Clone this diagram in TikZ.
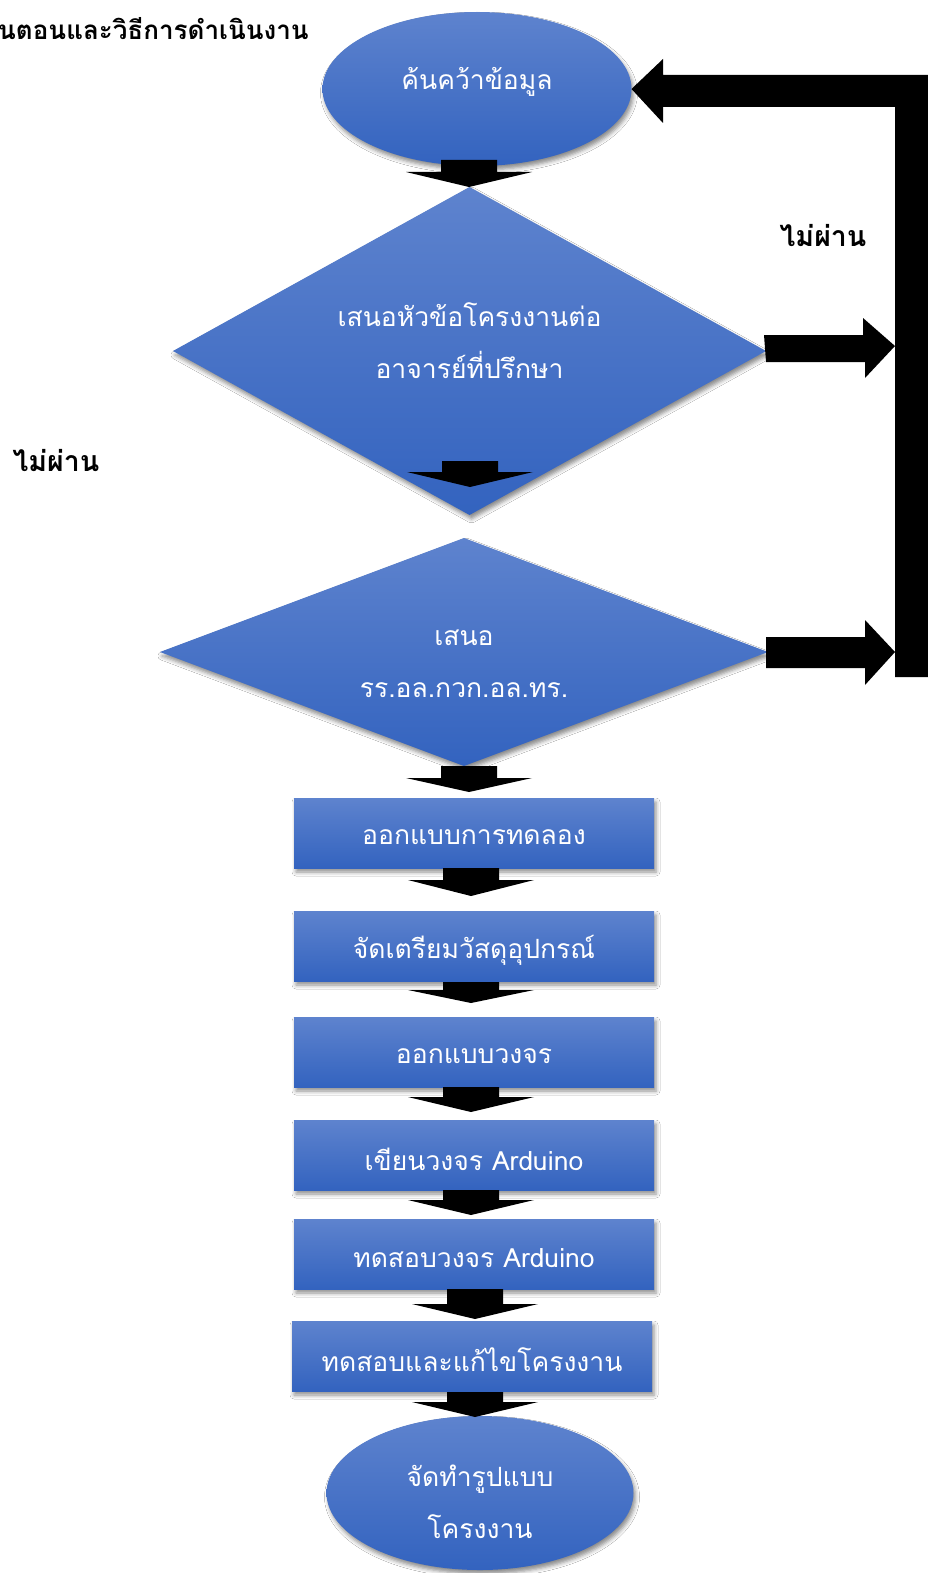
\documentclass[tikz,border=0pt]{standalone}
\usepackage{fontspec}
\newfontfamily\thaifont[Script=Thai]{Loma}
\usetikzlibrary{shapes.geometric,shadows.blur}
\definecolor{bluetop}{HTML}{5E83CE}
\definecolor{bluebot}{HTML}{3363BF}
\tikzset{
  blueshape/.style={top color=bluetop, bottom color=bluebot, draw=none,
    blur shadow={shadow xshift=2pt, shadow yshift=-4pt, shadow blur radius=4pt, shadow opacity=45},
    inner sep=0pt, outer sep=0pt},
  oval/.style={blueshape, ellipse, minimum width=#1, minimum height=154},
  decide/.style={blueshape, diamond},
  stepbox/.style={blueshape, rectangle, minimum width=360, minimum height=70},
  txt/.style={text=white, align=center, inner sep=0pt, font=\thaifont\fontsize{26.5}{52}\selectfont},
  lbl/.style={text=black, inner sep=0pt, font=\thaifont\bfseries\fontsize{28.5}{34}\selectfont},
}
\newcommand{\blkdown}[4]{\fill[black] (#1-28,#2) -- (#1+28,#2) -- (#1+28,#3) -- (#1+63,#3) -- (#1,#4) -- (#1-63,#3) -- (#1-28,#3) -- cycle;}
\begin{document}
\begin{tikzpicture}[x=1pt,y=-1pt]
\useasboundingbox[fill=white] (0,0) rectangle (928,1573);

% title and labels
\node[lbl, anchor=west, font=\thaifont\bfseries\fontsize{26}{32}\selectfont] (title) at (-2,29) {นตอนและวิธีการดำเนินงาน};
\node[lbl] (noR) at (823,236) {ไม่ผ่าน};
\node[lbl] (noL) at (56,461) {ไม่ผ่าน};

% shapes
\node[oval=309] (e1) at (477,89) {};
\node[decide, minimum width=593, minimum height=328] (d1) at (469.5,351) {};
\node[decide, minimum width=608, minimum height=228] (d2) at (464,652) {};
\node[stepbox] (r1) at (474,833) {};
\node[stepbox] (r2) at (474,946) {};
\node[stepbox] (r3) at (474,1052) {};
\node[stepbox] (r4) at (474,1155) {};
\node[stepbox] (r5) at (474,1254) {};
\node[stepbox] (r6) at (472,1356) {};
\node[oval=307] (e2) at (480,1493) {};

% texts
\node[txt, yshift=7pt] (e1t) at (e1) {ค้นคว้าข้อมูล};
\node[txt, yshift=10pt] (d1t) at (d1) {เสนอหัวข้อโครงงานต่อ\\อาจารย์ที่ปรึกษา};
\node[txt, yshift=-12pt] (d2t) at (d2) {เสนอ\\รร.อล.กวก.อล.ทร.};
\node[txt, yshift=-4pt] (r1t) at (r1) {ออกแบบการทดลอง};
\node[txt, yshift=-4pt] (r2t) at (r2) {จัดเตรียมวัสดุอุปกรณ์};
\node[txt, yshift=-4pt] (r3t) at (r3) {ออกแบบวงจร};
\node[txt, yshift=-4pt] (r4t) at (r4) {เขียนวงจร Arduino};
\node[txt, yshift=-4pt] (r5t) at (r5) {ทดสอบวงจร Arduino};
\node[txt, yshift=-4pt] (r6t) at (r6) {ทดสอบและแก้ไขโครงงาน};
\node[txt, yshift=-9pt] (e2t) at (e2) {จัดทำรูปแบบ\\โครงงาน};

% down block arrows
\blkdown{469}{160}{172}{187}
\blkdown{470}{461}{472}{487}
\blkdown{469}{766}{778}{792}
\blkdown{471}{868}{880}{896}
\blkdown{471}{982}{990}{1003}
\blkdown{471}{1087}{1097}{1112}
\blkdown{471}{1190}{1200}{1215}
\blkdown{475}{1289}{1304}{1319}
\blkdown{475}{1392}{1402}{1417}

% feedback loop
\fill[black] (d1.east) ++(-2,-16) coordinate (a1) -- ++(99,0) -- ++(0,-17) -- (895,346) -- (865,378) -- (865,362) -- ++(-99,0) -- cycle;
\fill[black] (d2.east) ++(-2,-15) coordinate (a2) -- ++(99,0) -- ++(0,-17) -- (895,652) -- (865,685) -- (865,668) -- ++(-99,0) -- cycle;
\fill[black] (928,75) -- (928,677) -- (895,677) -- (895,107) -- (663,107) -- (663,123) -- (e1.east) -- (663,59) -- (663,75) -- cycle;
\end{tikzpicture}
\end{document}
